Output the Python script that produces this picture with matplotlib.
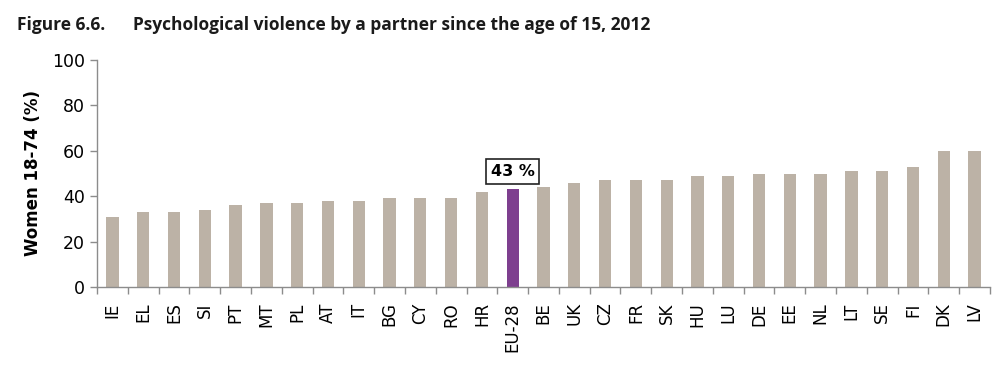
import matplotlib
matplotlib.use("Agg")
import matplotlib.pyplot as plt
import numpy as np

countries = ["IE", "EL", "ES", "SI", "PT", "MT", "PL", "AT", "IT", "BG", "CY", "RO", "HR",
             "EU-28", "BE", "UK", "CZ", "FR", "SK", "HU", "LU", "DE", "EE", "NL", "LT", "SE",
             "FI", "DK", "LV"]
values = [31, 33, 33, 34, 36, 37, 37, 38, 38, 39, 39, 39, 42,
          43, 44, 46, 47, 47, 47, 49, 49, 50, 50, 50, 51, 51,
          53, 60, 60]
highlight = "EU-28"
yticks = [0, 20, 40, 60, 80, 100]

GREY = "#bcb2a6"
PURPLE = "#7e3f8f"
AXIS = "#8c8c8c"

fig = plt.figure(figsize=(10.04, 3.74), dpi=100)
ax = fig.add_axes([97 / 1004, 1 - 287 / 374, 893 / 1004, 227 / 374])

x = np.arange(len(countries))
colors = [PURPLE if c == highlight else GREY for c in countries]
ax.bar(x, values, width=0.4, color=colors, zorder=2)

ax.set_xlim(-0.5, len(countries) - 0.5)
ax.set_ylim(0, 100)
ax.set_yticks(yticks)
ax.set_xticks(x)
ax.set_xticklabels(countries, rotation=90, fontsize=12, family="DejaVu Sans")
ax.set_xticks(np.arange(-0.5, len(countries)), minor=True)
ax.tick_params(axis="x", which="major", length=0, pad=11)
ax.tick_params(axis="x", which="minor", length=5, color=AXIS, width=1)
ax.tick_params(axis="y", length=5, color=AXIS, width=1, labelsize=12.5)

for side in ("top", "right"):
    ax.spines[side].set_visible(False)
for side in ("left", "bottom"):
    ax.spines[side].set_color(AXIS)
    ax.spines[side].set_linewidth(1)

ax.set_ylabel("Women 18-74 (%)", fontsize=12, fontweight="bold", labelpad=7)

i = countries.index(highlight)
ax.text(x[i], values[i] + 8, f"{values[i]} %", ha="center", va="center", fontsize=11.5,
        fontweight="bold",
        bbox=dict(boxstyle="square,pad=0.3", facecolor="white", edgecolor="#222222", linewidth=1.2))

fig.text(17 / 1004, 1 - 25 / 374, "Figure 6.6.", fontsize=12.5, fontweight="bold",
         family="Open Sans", va="center", color="#1a1a1a")
fig.text(133 / 1004, 1 - 25 / 374, "Psychological violence by a partner since the age of 15, 2012",
         fontsize=12.5, fontweight="bold", family="Open Sans", va="center", color="#1a1a1a")

fig.savefig("out.png", dpi=100)
